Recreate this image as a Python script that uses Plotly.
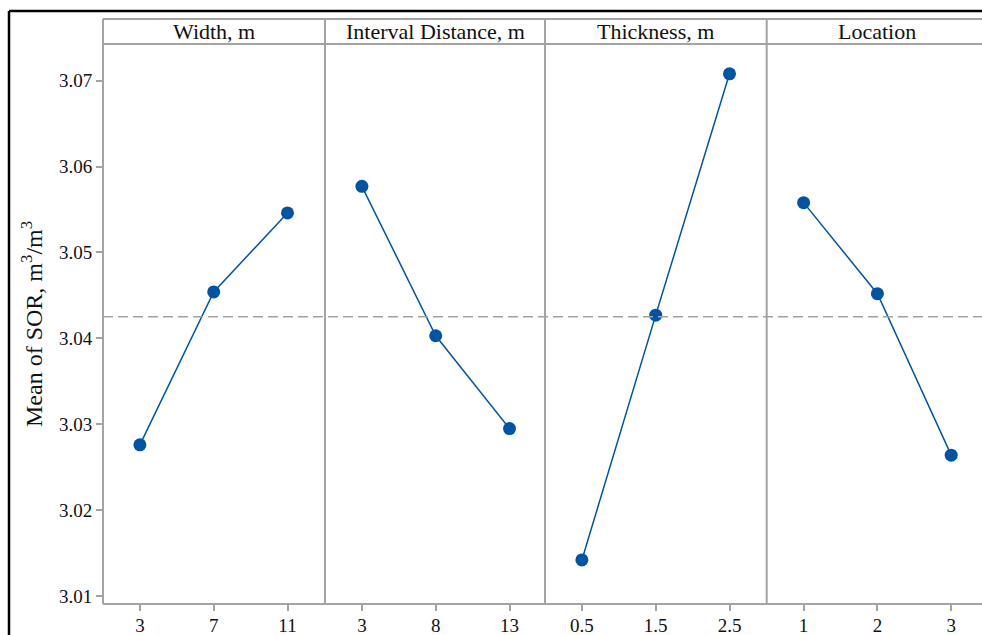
import plotly.graph_objects as go

# Main effects plot for the mean of SOR (m3/m3)
factors = ["Width, m", "Interval Distance, m", "Thickness, m", "Location"]
width_levels = ["3", "7", "11"]
interval_levels = ["3", "8", "13"]
thickness_levels = ["0.5", "1.5", "2.5"]
location_levels = ["1", "2", "3"]

width_means = [3.0276, 3.0454, 3.0546]
interval_means = [3.0577, 3.0403, 3.0295]
thickness_means = [3.0142, 3.0427, 3.0708]
location_means = [3.0558, 3.0452, 3.0264]

grand_mean = 3.0425

y_ticks = [3.01, 3.02, 3.03, 3.04, 3.05, 3.06, 3.07]

levels = [width_levels, interval_levels, thickness_levels, location_levels]
means = [width_means, interval_means, thickness_means, location_means]

W, H = 982, 635
ML, MR, MT, MB = 103, 0, 44, 31
PW = W - ML - MR
PH = H - MT - MB

GRAY = "#a3a3a3"
BLUE = "#0054a6"
FONT = "Liberation Serif"

# panel boundaries in pixels
edges_px = [103, 325, 545, 766.7, 982]
domains = [((edges_px[i] - ML) / PW, (edges_px[i + 1] - ML) / PW) for i in range(4)]
level_px = 73.8

fig = go.Figure()
layout = {}
for i in range(4):
    xa = "x" if i == 0 else f"x{i + 1}"
    key = "xaxis" if i == 0 else f"xaxis{i + 1}"
    fig.add_trace(go.Scatter(
        x=[0, 1, 2], y=means[i], xaxis=xa, yaxis="y",
        mode="lines+markers",
        line=dict(color=BLUE, width=1.5),
        marker=dict(color=BLUE, size=13),
        showlegend=False, hoverinfo="skip",
    ))
    span_px = edges_px[i + 1] - edges_px[i]
    layout[key] = dict(
        domain=list(domains[i]), anchor="y",
        range=[-0.5, -0.5 + span_px / level_px],
        tickvals=[0, 1, 2], ticktext=levels[i],
        ticks="outside", ticklen=6, tickwidth=1.5, tickcolor=GRAY,
        ticklabelstandoff=-2, automargin=False,
        showgrid=False, zeroline=False, showline=False,
        tickfont=dict(family=FONT, size=19, color="#111"),
        fixedrange=True,
    )

layout["yaxis"] = dict(
    domain=[0, 1], anchor="x",
    range=[3.00907, 3.07427],
    tickvals=y_ticks, ticktext=[f"{v:.2f}" for v in y_ticks],
    ticks="outside", ticklen=6, tickwidth=1.5, tickcolor=GRAY,
    automargin=False,
    showgrid=False, zeroline=False, showline=False,
    tickfont=dict(family=FONT, size=19, color="#111"),
    fixedrange=True,
)

shapes = []
hdr_top = 1 + (MT - 19) / PH
# reference line at the overall mean
shapes.append(dict(type="line", xref="paper", yref="y", x0=0, x1=1,
                   y0=grand_mean, y1=grand_mean,
                   line=dict(color=GRAY, width=1.5, dash="10px,5px")))
# bottom frame of the panels
shapes.append(dict(type="line", xref="paper", yref="paper", x0=0, x1=1.01, y0=0, y1=0,
                   line=dict(color=GRAY, width=2)))
# panel header strip
shapes.append(dict(type="line", xref="paper", yref="paper", x0=0, x1=1.01, y0=1, y1=1,
                   line=dict(color=GRAY, width=2)))
shapes.append(dict(type="line", xref="paper", yref="paper", x0=0, x1=1.01, y0=hdr_top, y1=hdr_top,
                   line=dict(color=GRAY, width=2)))
for i in range(4):
    x = domains[i][0]
    shapes.append(dict(type="line", xref="paper", yref="paper", x0=x, x1=x, y0=0, y1=hdr_top,
                       line=dict(color=GRAY, width=2)))
# outer black frame
fx = (9 - ML) / PW
fy = 1 + (MT - 11) / PH
shapes.append(dict(type="line", xref="paper", yref="paper", x0=fx, x1=1.05, y0=fy, y1=fy,
                   line=dict(color="black", width=2.5)))
shapes.append(dict(type="line", xref="paper", yref="paper", x0=fx, x1=fx, y0=-0.2, y1=fy,
                   line=dict(color="black", width=2.5)))

annotations = []
for i in range(4):
    xc = (domains[i][0] + (edges_px[i] + 221 - ML) / PW) / 2 if i == 3 else sum(domains[i]) / 2
    annotations.append(dict(
        text=factors[i], xref="paper", yref="paper",
        x=xc, y=(1 + hdr_top) / 2, xanchor="center", yanchor="middle",
        showarrow=False, font=dict(family=FONT, size=22, color="#111"),
    ))
annotations.append(dict(
    text="Mean of SOR, m<sup>3</sup>/m<sup>3</sup>", xref="paper", yref="paper",
    x=(32 - ML) / PW, y=0.5, xanchor="center", yanchor="middle", textangle=-90,
    showarrow=False, font=dict(family=FONT, size=24, color="#111"),
))

fig.update_layout(
    width=W, height=H,
    margin=dict(l=ML, r=MR, t=MT, b=MB, pad=0, autoexpand=False),
    paper_bgcolor="white", plot_bgcolor="white",
    shapes=shapes, annotations=annotations,
    **layout,
)

fig.write_html("out.html", config={"displayModeBar": False})
